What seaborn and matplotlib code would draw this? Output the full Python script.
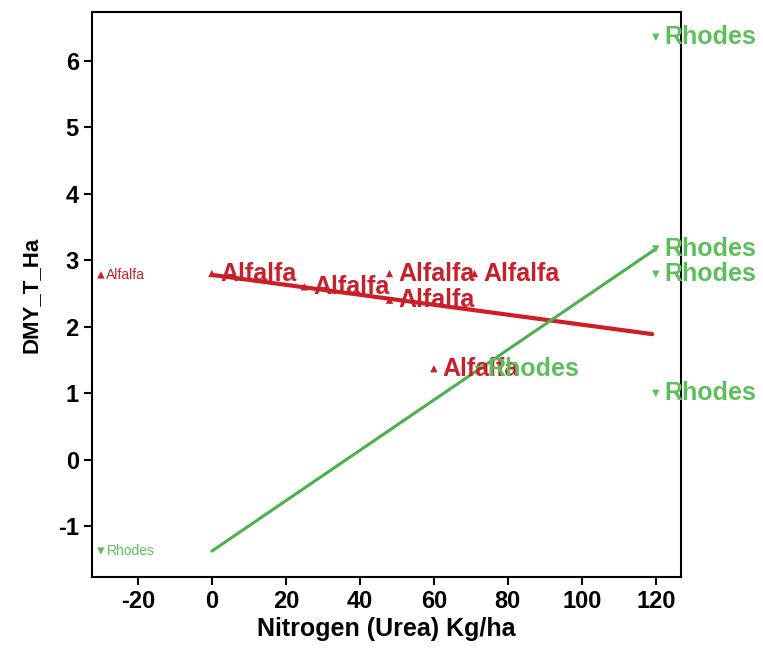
import pandas as pd
import matplotlib.pyplot as plt
import seaborn as sns

sns.set_style("ticks")
plt.rcParams['font.family'] = ['Liberation Sans', 'DejaVu Sans']
plt.rcParams['axes.unicode_minus'] = False

red = "#c8202a"
green = "#5cbf5c"

# labelled points
alfalfa_x = [0, 25, 48, 71, 48, 60]
alfalfa_y = [2.80, 2.60, 2.80, 2.80, 2.40, 1.37]
rhodes_x = [120, 120, 120, 120, 72]
rhodes_y = [6.35, 3.17, 2.79, 1.00, 1.36]

# small key points at the left
alfalfa_key = (-30, 2.78)
rhodes_key = (-30, -1.37)

# fitted lines
line_x = [0, 119]
alfalfa_fit = [2.78, 1.89]
rhodes_line_x = [0, 120]
rhodes_fit = [-1.37, 3.17]

x_ticks = [-20, 0, 20, 40, 60, 80, 100, 120]
y_ticks = [-1, 0, 1, 2, 3, 4, 5, 6]

alfalfa_df = pd.DataFrame({"x": alfalfa_x + [alfalfa_key[0]], "y": alfalfa_y + [alfalfa_key[1]]})
rhodes_df = pd.DataFrame({"x": rhodes_x + [rhodes_key[0]], "y": rhodes_y + [rhodes_key[1]]})

fig = plt.figure(figsize=(7.63, 6.52), dpi=100)
ax = fig.add_axes([0.1206, 0.115, 0.7719, 0.8666])

sns.lineplot(x=line_x, y=alfalfa_fit, color="#d01c24", linewidth=3, ax=ax)
sns.lineplot(x=rhodes_line_x, y=rhodes_fit, color="#4cb04c", linewidth=2.2, ax=ax)

sns.scatterplot(data=alfalfa_df, x="x", y="y", marker="^", color=red, s=28,
                edgecolor="none", ax=ax, zorder=3)
sns.scatterplot(data=rhodes_df, x="x", y="y", marker="v", color=green, s=28,
                edgecolor="none", ax=ax, zorder=3)

for xv, yv in zip(alfalfa_x, alfalfa_y):
    ax.text(xv + 2.4, yv, "Alfalfa", color=red, fontsize=18, fontweight="bold",
            va="center", ha="left", zorder=5)
for xv, yv in zip(rhodes_x, rhodes_y):
    ax.text(xv + 2.4, yv, "Rhodes", color=green, fontsize=18, fontweight="bold",
            va="center", ha="left", zorder=5)

ax.text(alfalfa_key[0] + 1.5, alfalfa_key[1], "Alfalfa", color=red, fontsize=10,
        va="center", ha="left")
ax.text(rhodes_key[0] + 1.5, rhodes_key[1], "Rhodes", color=green, fontsize=10,
        va="center", ha="left")

ax.set_xlim(-32.4, 126.8)
ax.set_ylim(-1.76, 6.73)
ax.set_xticks(x_ticks)
ax.set_yticks(y_ticks)
ax.tick_params(axis="both", length=6, width=1.5, labelsize=17, direction="out",
               colors="black")
for lbl in ax.get_xticklabels() + ax.get_yticklabels():
    lbl.set_fontweight("bold")
for sp in ax.spines.values():
    sp.set_linewidth(1.5)
    sp.set_color("black")

ax.set_xlabel("Nitrogen (Urea) Kg/ha", fontsize=18, fontweight="bold", labelpad=3,
              color="black")
ax.set_ylabel("DMY_T_Ha", fontsize=16, fontweight="bold", labelpad=12, color="black")

plt.savefig("out.png", dpi=100)
